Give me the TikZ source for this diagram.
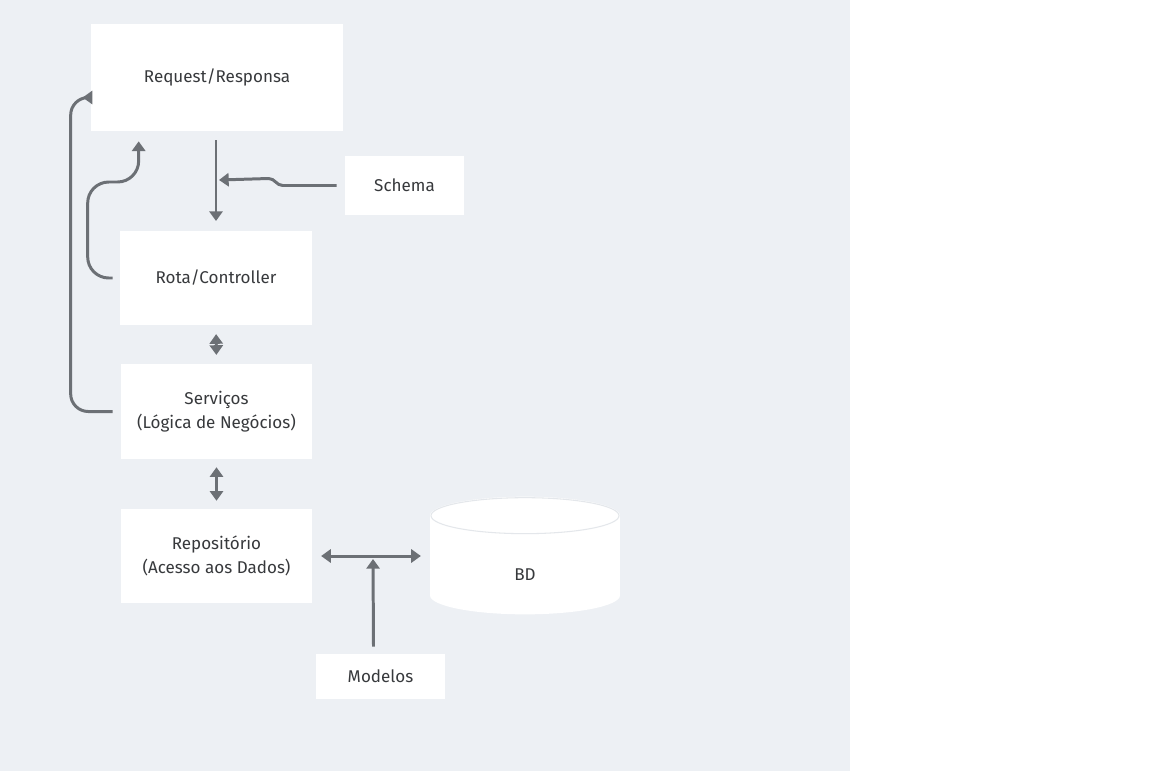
\documentclass[tikz,border=0pt]{standalone}
\usepackage{fontspec}
\setmainfont{Fira Sans}
\usepackage{tikz}
\usetikzlibrary{positioning}
\usetikzlibrary{arrows.meta}
\usetikzlibrary{calc}
\definecolor{bggray}{RGB}{237,240,244}
\definecolor{rimgray}{RGB}{228,231,235}
\definecolor{linegray}{RGB}{108,112,117}
\definecolor{textgray}{RGB}{55,57,60}

\begin{document}
\begin{tikzpicture}[
            x = 0.02cm, y = -0.02cm, % pixel grid
            > = {Triangle[length=5.5pt, width=7.5pt]}, % arrow head style
            font = \fontsize{9.7}{13.7}\selectfont
        ]

        \tikzstyle{box}=[
            fill = white,
            text = textgray,
            align = center,
            inner sep = 0pt
        ]
        \tikzstyle{link}=[
            draw = linegray,
            line width = 1.7pt
        ]

        % canvas
        \fill[white] (0,0) rectangle (1152,771);
        \fill[bggray] (0,0) rectangle (850,771);
        \useasboundingbox (0,0) rectangle (1152,771);

        % layers
        \node[box, minimum width=5.04cm, minimum height=2.14cm] (RR) at (217,77.5) {Request/Responsa};
        \node[box, minimum width=2.38cm, minimum height=1.18cm] (SC) at (404.5,185.5) {Schema};
        \node[box, minimum width=3.84cm, minimum height=1.88cm] (RC) at (216,278) {Rota/Controller};
        \node[box, minimum width=3.82cm, minimum height=1.9cm] (SV) at (216.5,411.5) {Serviços\\(Lógica de Negócios)};
        \node[box, minimum width=3.82cm, minimum height=1.88cm] (RP) at (216.5,556) {Repositório\\(Acesso aos Dados)};

        % data
        \node[minimum width=3.8cm, minimum height=2.34cm, inner sep=0pt] (BD) at (525,555.5) {};
        \fill[white] ($(BD.north west)+(0,19)$) rectangle ($(BD.south east)+(0,-19)$);
        \fill[white] ($(BD.south)+(0,-19)$) ellipse [x radius=95, y radius=19];
        \fill[white] ($(BD.north)+(0,19)$) ellipse [x radius=95, y radius=19];
        \draw[rimgray, line width=0.6pt] ($(BD.north)+(0,19)$) ellipse [x radius=94, y radius=18];
        \node[text=textgray] (BDt) at (525,575) {BD};
        \node[box, minimum width=2.58cm, minimum height=0.9cm] (MD) at (380.5,676.5) {Modelos};

        % joins
        \coordinate (J) at (219,180);
        \coordinate (K) at (373,559);

        % request flow
        \path[link, ->, shorten <=5pt, shorten >=5.5pt] (RC.north |- RR.south) -- (RC.north);
        \path[link, ->] ($(SC.west)+(-8,0)$) -- ++(-54,0) to[out=180, in=0] ++(-14,-7) -- (J);
        \path[link, ->, rounded corners=12] ($(RC.west)+(-7,0)$) -- ++(-25,0) -- ++(0,-96) -| ($(RR.south west)+(48,10)$);
        \path[link, <->, shorten <=5pt, shorten >=5pt] (RC.south) -- (SV.north);
        \path[link, ->, rounded corners=10] ($(SV.west)+(-8,0)$) -- ++(-42,0) |- ($(RR.west)+(-8,20)$);

        % data flow
        \path[link, <->, shorten <=4.5pt, shorten >=4.5pt] (SV.south) -- (RP.north);
        \path[link, <->, shorten <=5pt, shorten >=5pt] (RP.east) -- (RP.east -| BD.west);
        \path[link, ->] ($(MD.north)+(-7,-7)$) -- (K);

\end{tikzpicture}
\end{document}
